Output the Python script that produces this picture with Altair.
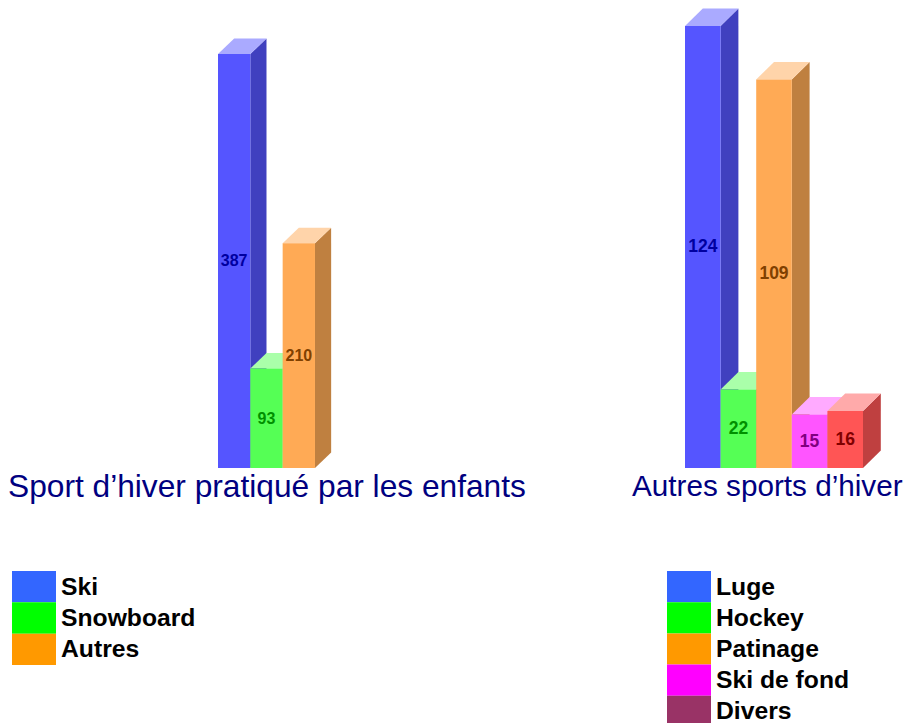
import altair as alt
import pandas as pd

left_names = ["Ski", "Snowboard", "Autres"]
left_values = [387, 93, 210]
right_names = ["Luge", "Hockey", "Patinage", "Ski de fond", "Divers"]
right_values = [124, 22, 109, 15, 16]

front = ["#5555FF", "#55FF55", "#FFAA55", "#FF55FF", "#FF5555"]
top = ["#AAAAFF", "#AAFFAA", "#FFD4AA", "#FFAAFF", "#FFAAAA"]
side = ["#4040BF", "#40BF40", "#BF8040", "#BF40BF", "#BF4040"]
ink = ["#0000A0", "#009000", "#804000", "#800080", "#800000"]
left_swatch = ["#3366FF", "#00FF00", "#FF9900"]
right_swatch = ["#3366FF", "#00FF00", "#FF9900", "#FF00FF", "#993366"]

FONT = "Liberation Sans"
PANEL_H = 510
BASE = 460


def bars_panel(values, width, x0, step, k, depth_y, label_size, title, title_x, title_size):
    xs = alt.Scale(domain=[-x0 / step, (width - x0) / step], range=[0, width], nice=False, zero=False)
    ys = alt.Scale(domain=[-(PANEL_H - BASE) / k, BASE / k], range=[PANEL_H, 0], nice=False, zero=False)
    dv = depth_y / k
    d = 0.5
    X = alt.X("x:Q", scale=xs, axis=None)
    Y = alt.Y("y:Q", scale=ys, axis=None)
    layers = []
    for i, v in enumerate(values):
        s = pd.DataFrame({"x": [i + 1, i + 1 + d], "y": [v, v + dv], "y2": [0, dv]})
        t = pd.DataFrame({
            "x": [i, i + d, i + 1, i + 1 + d],
            "y": [v, v + dv, v + dv, v + dv],
            "y2": [v, v, v, v + dv],
        })
        f = pd.DataFrame({"x": [i], "x2": [i + 1], "y": [v], "y2": [0]})
        layers.append(alt.Chart(s).mark_area(color=side[i], interpolate="linear", opacity=1).encode(X, Y, y2="y2:Q"))
        layers.append(alt.Chart(t).mark_area(color=top[i], interpolate="linear", opacity=1).encode(X, Y, y2="y2:Q"))
        layers.append(alt.Chart(f).mark_rect(color=front[i]).encode(X, x2="x2:Q", y=Y, y2="y2:Q"))
    for i, v in enumerate(values):
        lab = pd.DataFrame({"x": [i + 0.5], "y": [v / 2], "t": [str(v)]})
        layers.append(alt.Chart(lab).mark_text(font=FONT, fontWeight="bold", fontSize=label_size, color=ink[i], dy=0.5).encode(X, Y, text="t:N"))
    layers.append(
        alt.Chart(pd.DataFrame({"t": [title]})).mark_text(font=FONT, fontSize=title_size, color="#000080", align="left", baseline="middle")
        .encode(x=alt.value(title_x), y=alt.value(478.5), text="t:N")
    )
    return alt.layer(*layers).properties(width=width, height=PANEL_H)


def legend_panel(names, colors, width, swatch_x, font_size=24.7):
    h = round(31.3 * len(names))
    Y = alt.Y("n:N", sort=names, scale=alt.Scale(domain=names, paddingInner=0, paddingOuter=0), axis=None)
    df = pd.DataFrame({"n": names, "c": colors})
    rect = alt.Chart(df).mark_rect().encode(
        x=alt.value(swatch_x), x2=alt.value(swatch_x + 44), y=Y,
        fill=alt.Fill("c:N", scale=None),
    )
    text = alt.Chart(df).mark_text(font=FONT, fontWeight="bold", fontSize=font_size, color="#000000", align="left", dy=1).encode(
        x=alt.value(swatch_x + 49), y=Y, text="n:N"
    )
    return alt.layer(rect, text).properties(width=width, height=h)


W1, W2 = 620, 276
p1 = bars_panel(left_values, W1, 210, 32.33, 1.07, 15.5, 16, "Sport d\u2019hiver pratiqu\u00e9 par les enfants", 0, 31.7)
p2 = bars_panel(right_values, W2, 57, 35.6, 3.565, 17.5, 17.5, "Autres sports d\u2019hiver", 4, 29.7)
l1 = legend_panel(left_names, left_swatch, W1, 4)
l2 = legend_panel(right_names, right_swatch, W2, 39)

chart = alt.hconcat(
    alt.vconcat(p1, l1, spacing=53),
    alt.vconcat(p2, l2, spacing=53),
    spacing=0,
).properties(padding=0).configure_view(stroke=None)

chart.save("out.html", embed_options={"renderer": "svg", "actions": False})
